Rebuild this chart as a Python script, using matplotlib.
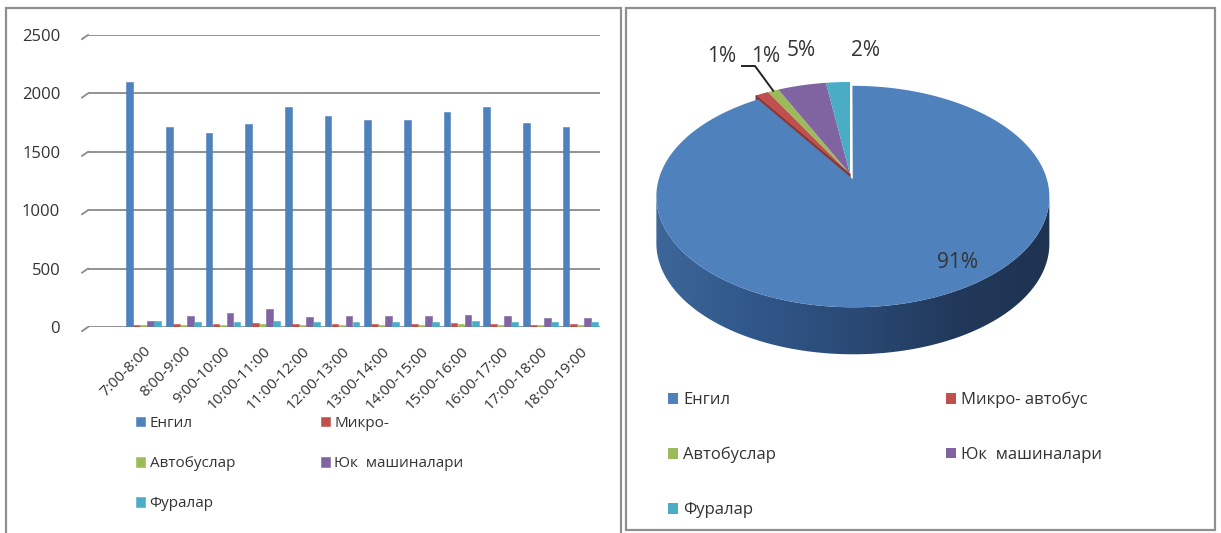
import numpy as np
import matplotlib
matplotlib.use("Agg")
import matplotlib.pyplot as plt
from matplotlib.patches import Polygon, Rectangle
from matplotlib.colors import LinearSegmentedColormap

plt.rcParams['font.family'] = ['Open Sans', 'DejaVu Sans']

# ---- data -------------------------------------------------------------
hours = ["7:00-8:00", "8:00-9:00", "9:00-10:00", "10:00-11:00", "11:00-12:00",
         "12:00-13:00", "13:00-14:00", "14:00-15:00", "15:00-16:00",
         "16:00-17:00", "17:00-18:00", "18:00-19:00"]
series_names = ["Енгил", "Микро- автобус", "Автобуслар", "Юк  машиналари", "Фуралар"]
bar_legend_names = ["Енгил", "Микро-", "Автобуслар", "Юк  машиналари", "Фуралар"]

engil = [2100, 1710, 1665, 1740, 1885, 1810, 1775, 1775, 1840, 1885, 1750, 1710]
mikro = [20, 25, 25, 30, 25, 25, 25, 25, 30, 25, 20, 25]
avtobus = [20, 20, 20, 25, 20, 20, 20, 20, 25, 20, 20, 20]
yuk = [50, 95, 120, 150, 85, 95, 90, 90, 100, 90, 75, 75]
furalar = [50, 45, 45, 50, 45, 45, 45, 45, 50, 45, 40, 45]

colors = ["#4F81BD", "#C0504D", "#9BBB59", "#8064A2", "#4BACC6"]
series = [engil, mikro, avtobus, yuk, furalar]

W, H = 1221, 533
fig = plt.figure(figsize=(W / 100, H / 100), dpi=100)


def px_box(x0, y0, x1, y1):
    """Pixel box (origin top-left) -> figure fraction rectangle."""
    return [x0 / W, 1 - y1 / H, (x1 - x0) / W, (y1 - y0) / H]


# ---- panel frames -----------------------------------------------------
for (x0, y0, x1, y1) in [(6, 8, 621, 545), (626, 8, 1215, 530)]:
    fig.patches.append(Rectangle((x0 / W, 1 - y1 / H), (x1 - x0) / W, (y1 - y0) / H,
                                 transform=fig.transFigure, fill=False,
                                 edgecolor="#8f8f8f", lw=1.6, zorder=0))

# ---- clustered columns ------------------------------------------------
ax = fig.add_axes(px_box(88, 35, 600, 327))
x = np.arange(1, len(hours) + 1)
step = 0.177
handles = []
for i, (vals, c, name) in enumerate(zip(series, colors, bar_legend_names)):
    b = ax.bar(x + (i - 2) * step, vals, width=0.17, color=c, label=name,
               edgecolor=c, linewidth=0.4, zorder=3)
    handles.append(b)

ax.set_xlim(-0.4, len(hours) + 0.5)
ax.set_ylim(0, 2500)
yt = np.arange(0, 2501, 500)
ax.set_yticks(yt)
ax.yaxis.grid(True, color="#8a8a8a", lw=1.3)
ax.set_axisbelow(True)
for s in ax.spines.values():
    s.set_visible(False)
ax.tick_params(axis="y", length=0, labelsize=12, colors="#333333", pad=20)
ax.tick_params(axis="x", length=0, labelsize=11, colors="#333333", pad=12)
ax.set_xticks(x, hours, rotation=45, ha="right", rotation_mode="anchor")

# short slanted ends of the back-wall gridlines
for v in yt:
    ax.plot([-0.55, -0.4], [v - 35, v], color="#8a8a8a", lw=1.3, clip_on=False)

order = [0, 2, 4, 1, 3]
fig.legend([handles[i] for i in order], [bar_legend_names[i] for i in order],
           ncol=2, loc="upper left", bbox_to_anchor=(136 / W, 1 - 416 / H),
           frameon=False, fontsize=11, handlelength=0.6, handleheight=0.6,
           handletextpad=0.3, columnspacing=5.6, labelspacing=1.65,
           borderaxespad=0, borderpad=0, labelcolor="#333333")

# ---- 3D-looking pie ---------------------------------------------------
totals = [sum(s) for s in series]
grand = sum(totals)

pax = fig.add_axes([0, 0, 1, 1])
wedges, _ = pax.pie(totals, startangle=90, counterclock=False,
                    explode=[0.05, 0, 0, 0, 0], colors=colors)
geo = [(w.theta1, w.theta2, w.center, w.r, w.get_facecolor()) for w in wedges]
for w in wedges:
    w.remove()
pax.set_aspect("auto")
pax.set_xlim(0, W)
pax.set_ylim(H, 0)
pax.axis("off")

CX, CY, A, B, K = 850, 174, 192.6, 106.4, 0.156
DEPTH = 47


def project(u, v, drop=0.0):
    s = 1 + K * v
    return np.column_stack([CX + A * u / s, CY - B * v / s + drop])


def wedge_pts(t1, t2, center, r, n=200):
    t = np.radians(np.linspace(t1, t2, n))
    u = np.concatenate([[center[0]], center[0] + r * np.cos(t)])
    v = np.concatenate([[center[1]], center[1] + r * np.sin(t)])
    return u, v


# side band of the big slice (front lower silhouette)
t1, t2, c0, r0, _ = geo[0]
tt = np.radians(np.linspace(0, 360, 1441))
ring = project(c0[0] + r0 * np.cos(tt), c0[1] + r0 * np.sin(tt))
ta, tb = tt[np.argmin(ring[:, 0])], tt[np.argmax(ring[:, 0])]
if tb < ta:
    tb += 2 * np.pi
tl = np.linspace(ta, tb, 400)
uu, vv = c0[0] + r0 * np.cos(tl), c0[1] + r0 * np.sin(tl)
upper = project(uu, vv)
lower = project(uu, vv, DEPTH)[::-1]
band = Polygon(np.vstack([upper, lower]), closed=True, facecolor="none",
               edgecolor="none")
pax.add_patch(band)
side_cmap = LinearSegmentedColormap.from_list(
    "side", ["#3d6699", "#31578a", "#2a4a75", "#22395c", "#1e3350"])
grad = np.linspace(0, 1, 256).reshape(1, -1)
img = pax.imshow(grad, cmap=side_cmap, aspect="auto",
                 extent=(upper[:, 0].min() - 2, upper[:, 0].max() + 2,
                         lower[:, 1].max() + 2, upper[:, 1].min() - 2),
                 zorder=1)
img.set_clip_path(band)

# exposed side face of the slice next to the big one
m1, m2, mc, mr, _ = geo[1]
edge = np.radians(m2)
eu = np.array([mc[0], mc[0] + mr * np.cos(edge)])
ev = np.array([mc[1], mc[1] + mr * np.sin(edge)])
top_e = project(eu, ev)
bot_e = project(eu, ev, DEPTH)
pax.add_patch(Polygon(np.vstack([top_e, bot_e[::-1]]), closed=True,
                      facecolor="#8e3a37", edgecolor="#6e2a28", lw=0.8, zorder=1.5))

# top faces
top_patches = []
for (t1, t2, c, r, fc), name in zip(geo, series_names):
    u, v = wedge_pts(t1, t2, c, r)
    p = Polygon(project(u, v), closed=True, facecolor=fc, edgecolor="none",
                zorder=2, label=name)
    pax.add_patch(p)
    top_patches.append(p)

# percentage labels
pct = [f"{round(100 * t / grand)}%" for t in totals]
lab_pos = [(957, 263), (722, 57), (766, 57), (801, 51), (866, 51)]
for (lx, ly), txt in zip(lab_pos, pct):
    pax.text(lx, ly, txt, ha="center", va="center", fontsize=15,
             color="#333333", zorder=5)

# leader line for the small bus slice
a1, a2, ac, ar, _ = geo[2]
am = np.radians((a1 + a2) / 2)
tip = project(np.array([ac[0] + ar * np.cos(am)]), np.array([ac[1] + ar * np.sin(am)]))[0]
pax.plot([742, 755, tip[0]], [66, 66, tip[1]], color="#222222", lw=1.4, zorder=4)

fig.legend([top_patches[i] for i in order], [series_names[i] for i in order],
           ncol=2, loc="upper left", bbox_to_anchor=(668 / W, 1 - 392 / H),
           frameon=False, fontsize=12, handlelength=0.6, handleheight=0.6,
           handletextpad=0.3, columnspacing=10.2, labelspacing=2.32,
           borderaxespad=0, borderpad=0, labelcolor="#333333")

fig.savefig("out.png", dpi=100)
